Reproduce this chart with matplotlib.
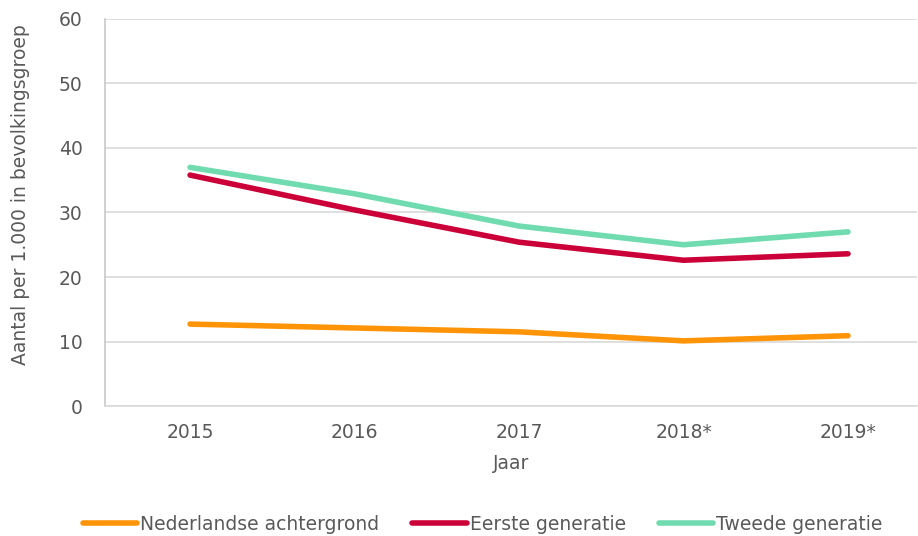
import matplotlib
matplotlib.use("Agg")
import matplotlib.pyplot as plt

jaren = ["2015", "2016", "2017", "2018*", "2019*"]
nederlands = [12.7, 12.1, 11.5, 10.1, 10.9]
eerste = [35.8, 30.4, 25.4, 22.6, 23.6]
tweede = [37.0, 32.9, 27.9, 25.0, 27.0]
yticks = [0, 10, 20, 30, 40, 50, 60]

plt.rcParams['font.family'] = ['DejaVu Sans']
fig = plt.figure(figsize=(9.18, 5.36), dpi=100)
ax = fig.add_axes([0.1144, 0.2425, 0.8846, 0.7221])

x = list(range(len(jaren)))
lw = 4.0
ax.plot(x, nederlands, color="#FF9408", lw=lw, solid_capstyle="round", solid_joinstyle="round", label="Nederlandse achtergrond")
ax.plot(x, eerste, color="#CC0039", lw=lw, solid_capstyle="round", solid_joinstyle="round", label="Eerste generatie")
ax.plot(x, tweede, color="#71DBB0", lw=lw, solid_capstyle="round", solid_joinstyle="round", label="Tweede generatie")

ax.set_xlim(-0.517, 4.42)
ax.set_ylim(0, 60)
ax.set_yticks(yticks)
ax.set_xticks(x)
ax.set_xticklabels(jaren)
ax.grid(axis="y", color="#D9D9D9", lw=1.2)
ax.set_axisbelow(True)
for s in ["top", "right"]:
    ax.spines[s].set_visible(False)
ax.spines["left"].set_color("#C8C8C8")
ax.spines["bottom"].set_color("#D9D9D9")
ax.spines["left"].set_linewidth(1.2)
ax.spines["bottom"].set_linewidth(1.2)
fs = 13.5
ax.tick_params(axis="both", length=0, labelsize=fs, colors="#595959", pad=12)
ax.tick_params(axis="y", pad=16)
ax.set_xlabel("Jaar", fontsize=fs, color="#595959", labelpad=9)
ax.set_ylabel("Aantal per 1.000 in bevolkingsgroep", fontsize=fs, color="#595959")
ax.yaxis.set_label_coords(-0.092, 0.545)

leg = fig.legend(loc="center", bbox_to_anchor=(0.526, 0.022), ncol=3, frameon=False,
                 fontsize=fs, handlelength=2.9, handletextpad=0.17, columnspacing=1.75)
for t in leg.get_texts():
    t.set_color("#595959")

fig.savefig("out.png", dpi=100)
